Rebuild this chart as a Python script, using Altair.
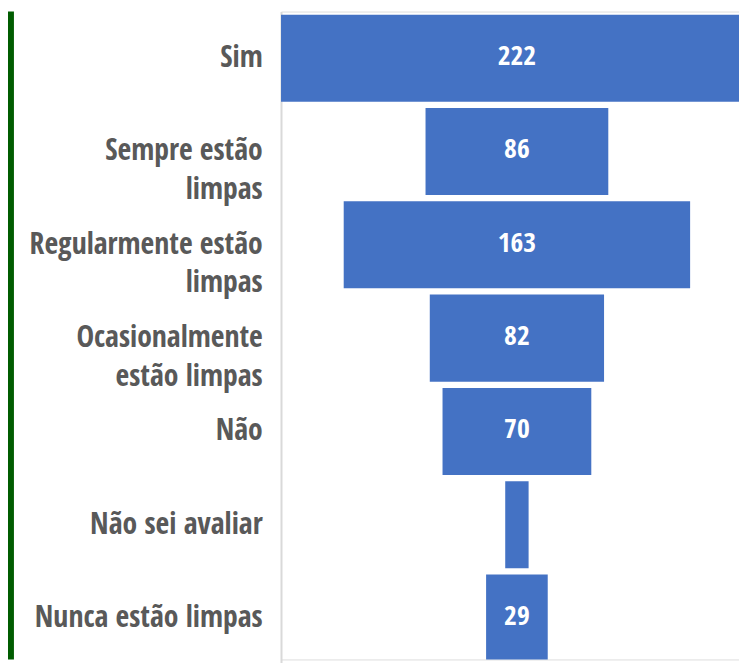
import altair as alt
import pandas as pd

categories = [
    "Sim",
    "Sempre estão|limpas",
    "Regularmente estão|limpas",
    "Ocasionalmente|estão limpas",
    "Não",
    "Não sei avaliar",
    "Nunca estão limpas",
]
values = [222, 86, 163, 82, 70, 11, 29]

df = pd.DataFrame({"cat": categories, "value": values})

H = 655
FONT = "Open Sans Condensed, Roboto Condensed, sans-serif"

yenc = alt.Y(
    "cat:N",
    sort=categories,
    scale=alt.Scale(range=[0, 660.3], paddingInner=0.067, paddingOuter=0.0335),
    axis=alt.Axis(
        title=None,
        labelExpr="split(datum.label, '|')",
        labelFont=FONT,
        labelFontWeight="bold",
        labelFontSize=30,
        labelColor="#595959",
        labelLineHeight=39,
        labelBaseline="top",
        labelOffset=-15,
        labelPadding=19,
        labelLimit=0,
        labelAlign="right",
        ticks=False,
        grid=False,
        domainColor="#d9d9d9",
        domainWidth=2,
    ),
)

xscale = alt.Scale(domain=[-111, 104.5], nice=False, zero=False)

base = alt.Chart(df).transform_calculate(
    lo="-datum.value/2", hi="datum.value/2", mid="0"
).encode(y=yenc)

bars = base.mark_bar(color="#4472C4", clip=True).encode(
    x=alt.X("lo:Q", scale=xscale, axis=None),
    x2="hi:Q",
)

labels = base.transform_filter("datum.value >= 20").mark_text(
    font=FONT, fontWeight="bold", fontSize=28, color="white", dy=-1
).encode(
    x=alt.X("mid:Q", scale=xscale, axis=None),
    text="value:Q",
)

green = alt.Chart(pd.DataFrame({"a": [0]})).mark_rule(
    color="#005c00", strokeWidth=6, clip=False
).encode(x=alt.value(-273), y=alt.value(0), y2=alt.value(H))

chart = alt.layer(green, bars, labels).properties(
    width=463,
    height=H,
    padding={"left": 276, "top": 0, "right": 0, "bottom": 0},
    autosize=alt.AutoSizeParams(type="none"),
).configure_view(stroke=None).configure(background="white")

chart.save("out.html", embed_options={"renderer": "svg", "actions": False})
